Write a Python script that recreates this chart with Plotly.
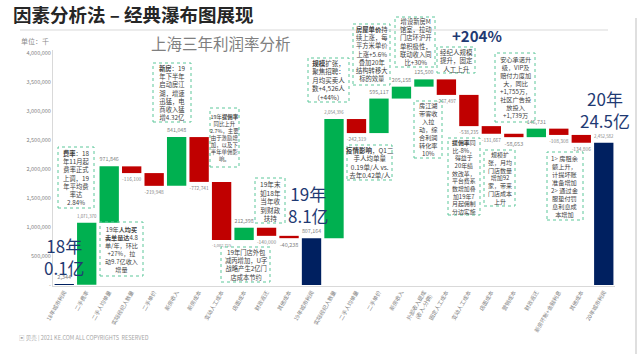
import plotly.graph_objects as go

# ---------------- data ----------------
categories = ["18年城市利润", "二手费率", "二手人均单量", "实际经纪人数量", "二手单价",
              "新房收入", "新房成本", "变动人工成本", "店面成本", "财政返还", "其他成本",
              "19年城市利润", "实际经纪人数量", "二手人均单量", "二手单价", "新房收入",
              "外部收入提成<br>(收入-分佣)", "固定人工成本", "变动人工成本", "店面成本",
              "营销成本", "财政返还", "新房坏账+金融利息", "其他成本", "20年城市利润"]
values = [2344, 1071370, 971846, -116100, -219948, 841048, -772741, -1002715, 212398,
          -140000, -40238, 807164, 2054396, -242319, 595117, 205158, 125500, -267497,
          -538235, -131667, -58653, 146731, -108308, -134806, 2452582]
measures = ["absolute"] + ["relative"] * 10 + ["absolute"] + ["relative"] * 12 + ["absolute"]
total_labels = [(0, "18年<br>0.1亿"), (11, "19年<br>8.1亿"), (24, "20年<br>24.5亿")]
y_ticks = [0, 500000, 1000000, 1500000, 2000000, 2500000, 3000000, 3500000, 4000000]

FONT = "Noto Sans CJK SC, Noto Sans, sans-serif"
W, H = 639, 354
L, R, T, B = 53, 24, 50, 68
PW, PH = W - L - R, H - T - B


def px(x, y):
    return (x - L) / PW, (H - B - y) / PH


bar_text = [f"{v:,}" for v in values]
xs = list(range(len(values)))

fig = go.Figure(go.Waterfall(
    x=xs, y=values, measure=measures,
    text=bar_text, textinfo="text", textposition="outside",
    textfont=dict(size=5.5, color="#7F7F7F", family=FONT),
    increasing=dict(marker=dict(color="#00B050")),
    decreasing=dict(marker=dict(color="#C00000")),
    totals=dict(marker=dict(color="#002060")),
    connector=dict(visible=False),
    cliponaxis=False,
))

# ---------------- annotation boxes ----------------
boxes = [
    ([58, 94, 147, 208], ["<b>费率</b>：18", "年11月起", "费率正式", "上调，19", "年平均费", "率达", "2.84%"], 6.3),
    ([100, 143, 222, 276], ["19年<b>人均买</b>", "<b>卖单量达</b>4.8", "单/年，环比", "+27%，拉", "动9.7亿收入", "增量"], 6.1),
    ([153, 191, 63, 122], ["<b>新房</b>：19", "年下半年", "启动房江", "湖，增速", "迅猛，电", "商收入猛", "增4.32亿"], 6.3),
    ([210, 239, 108, 167], ["19年<b>提佣率</b>", "同比上升", "2.7%，主要", "由于激励增", "加，以及下", "半年单佣影", "响。"], 5.4),
    ([255, 285, 178, 223], ["19年末", "如18年", "当年收", "到财政", "扶持"], 6.6),
    ([221, 270, 247, 282], ["19年门店外包", "减丙增加，U字", "战略产生2亿门", "店成本节约"], 6.3),
    ([308, 349, 58, 102], ["<b>规模</b>扩张，", "聚焦招聘：", "月均买卖人", "数+4,526人", "（+44%）"], 6.5),
    ([353, 390, 24, 85], ["<b>房屋单价</b>持", "续上涨，每", "平方米单价", "上涨+5.6%", "叠加20年", "结构转移大", "标的效量"], 6.3),
    ([395, 435, 17, 67], ["增设新房M", "馆室，拉动", "门店环沪开", "单积极性，", "联动收入同", "比+30%"], 6.3),
    ([437, 475, 47, 73], ["经纪人规模", "提升，固定", "人工上升"], 6.5),
    ([347, 392, 145, 180], ["<b>疫情影响</b>，Q1二", "手人均单量", "0.19单/人 vs.", "去年0.42单/人"], 6.5),
    ([414, 442, 101, 158], ["房江湖", "带客收", "入拉", "动，综", "合利润", "转化率", "10%"], 6.2),
    ([448, 480, 138, 215], ["<b>提佣率</b>同", "比-8%，", "得益于", "20年绩", "效改革，", "平台费系", "数增加叠", "加19年7", "月起佣制", "分边实施"], 5.9),
    ([484, 515, 150, 206], ["规模扩", "张，月均", "门店数量", "增加92", "家，带来", "门店成本", "上升"], 6.0),
    ([495, 535, 53, 122], ["安心承诺升", "级，VIP及", "赔付力度加", "大，同比", "+1,755万，", "社区广告投", "放投入", "+1,739万"], 6.2),
    ([547, 583, 152, 220], ["1> 房租余", "额上升，", "计提坏账", "准备增加", "2> 通过金", "服垫付罚", "息利息成", "本增加"], 6.2),
]

shapes = []
annotations = []
for (x0, x1, y0, y1), lines, fs in boxes:
    a0, b0 = px(x0, y1)
    a1, b1 = px(x1, y0)
    shapes.append(dict(type="rect", xref="paper", yref="paper", x0=a0, x1=a1, y0=b0, y1=b1,
                       line=dict(color="#5CC79A", width=1, dash="dot"), fillcolor="rgba(255,255,255,0)"))
    cx, cy = px((x0 + x1) / 2, (y0 + y1) / 2)
    annotations.append(dict(xref="paper", yref="paper", x=cx, y=cy, text="<br>".join(lines),
                            showarrow=False, align="center", xanchor="center", yanchor="middle",
                            font=dict(size=fs, color="#404040", family=FONT)))

# big totals labels
total_pos = {0: (64, 256), 11: (308, 204), 24: (605, 109)}
for idx, txt in total_labels:
    cx, cy = px(*total_pos[idx])
    annotations.append(dict(xref="paper", yref="paper", x=cx, y=cy, text=txt, showarrow=False,
                            xanchor="center", yanchor="middle", align="center",
                            font=dict(size=17, color="#1F3A73", family=FONT)))


def add_text(x, y, text, size, color, anchor="left", bold=False):
    ax, ay = px(x, y)
    annotations.append(dict(xref="paper", yref="paper", x=ax, y=ay, text=(f"<b>{text}</b>" if bold else text),
                            showarrow=False, xanchor=anchor, yanchor="middle",
                            font=dict(size=size, color=color, family=FONT)))


add_text(11, 14, "因素分析法 – 经典瀑布图展现", 18.5, "#262626", bold=True)
add_text(19, 41, "单位：千", 7, "#8C8C8C")
add_text(149, 43, "上海三年利润率分析", 15.5, "#7F7F7F")
add_text(477, 36, "+204%", 15, "#1F3A73", anchor="center", bold=True)
add_text(17, 338, "▣ 贝壳 | 2021 KE.COM ALL COPYRIGHTS  RESERVED", 5.5, "#A6A6A6")

lx0, ly0 = px(20, 30)
lx1, _ = px(608, 30)
shapes.append(dict(type="line", xref="paper", yref="paper", x0=lx0, x1=lx1, y0=ly0, y1=ly0,
                   line=dict(color="#D9D9D9", width=1)))
vx, vy0 = px(636, 18)
_, vy1 = px(636, 354)
shapes.append(dict(type="line", xref="paper", yref="paper", x0=vx, x1=vx, y0=vy0, y1=vy1,
                   line=dict(color="#BFBFBF", width=1)))

fig.update_layout(
    width=W, height=H,
    margin=dict(l=L, r=R, t=T, b=B),
    paper_bgcolor="white", plot_bgcolor="white",
    showlegend=False,
    waterfallgap=0.14,
    font=dict(family=FONT),
    shapes=shapes,
    annotations=annotations,
    xaxis=dict(tickmode="array", tickvals=xs, ticktext=categories, tickangle=-60,
               range=[-0.5, len(values) - 0.5], showgrid=False, zeroline=False,
               showline=True, linecolor="#D9D9D9", linewidth=1,
               tickfont=dict(size=5.5, color="#7F7F7F", family=FONT)),
    yaxis=dict(tickmode="array", tickvals=y_ticks,
               ticktext=["-" if v == 0 else f"{v:,}" for v in y_ticks],
               range=[-17241, 4051724], showgrid=False, zeroline=False,
               showline=True, linecolor="#D9D9D9", linewidth=1,
               tickfont=dict(size=5.5, color="#7F7F7F", family=FONT)),
)

fig.write_html("out.html")
